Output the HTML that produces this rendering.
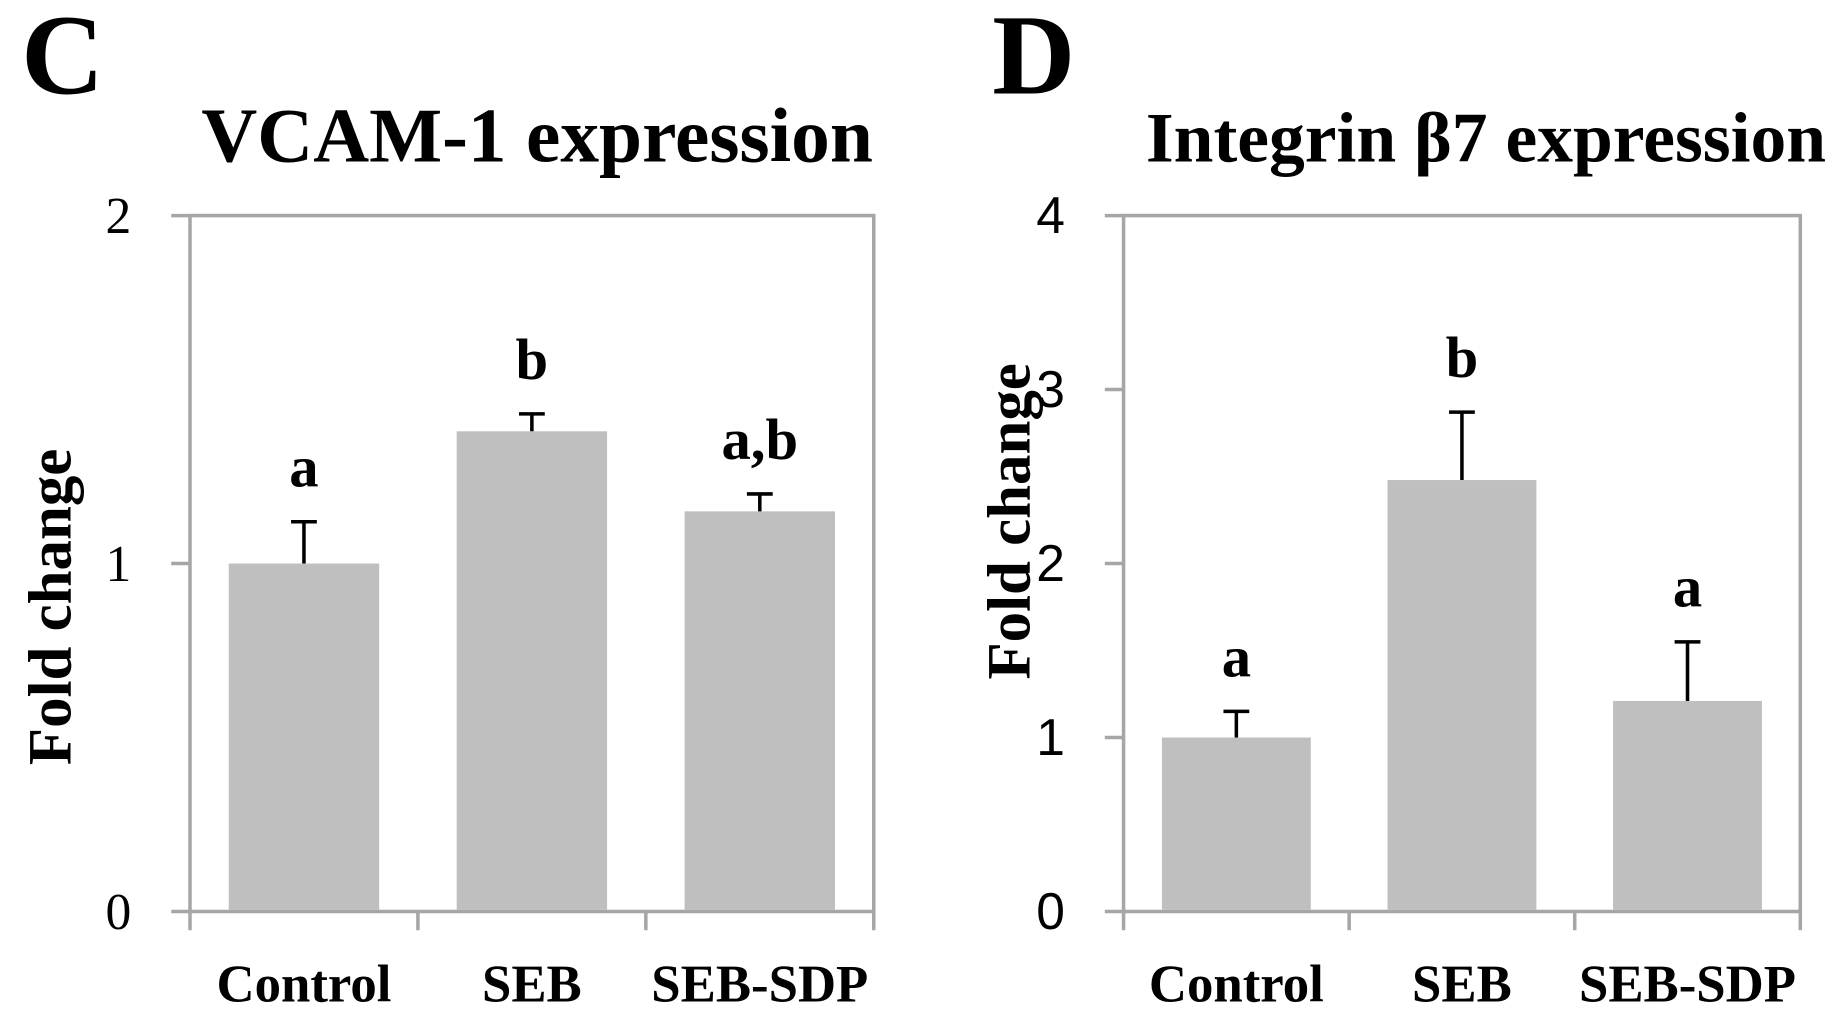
<!DOCTYPE html>
<html><head><meta charset="utf-8"><style>
html,body{margin:0;padding:0;background:#fff;}
svg{display:block;}
</style></head><body>
<svg id="fig" width="1839" height="1031" viewBox="0 0 1568 880" preserveAspectRatio="none"></svg>
<script>
const categories = ["Control","SEB","SEB-SDP"];
const vcamValues = [1.0, 1.38, 1.15];
const vcamErrors = [0.12, 0.05, 0.05];
const vcamLetters = ["a","b","a,b"];
const vcamTicks = [0,1,2];
const itgValues = [1.0, 2.48, 1.21];
const itgErrors = [0.15, 0.39, 0.34];
const itgLetters = ["a","b","a"];
const itgTicks = [0,1,2,3,4];

const NS="http://www.w3.org/2000/svg";
const svg=document.getElementById('fig');
function mk(tag,attrs,parent){const e=document.createElementNS(NS,tag);for(const k in attrs)e.setAttribute(k,attrs[k]);(parent||svg).appendChild(e);return e;}
const SERIF='"Liberation Serif", serif', SANS='"Liberation Sans", sans-serif';

function drawPanel(o){
  const g=mk('g',{});
  
  
  const yMax=o.ticks[o.ticks.length-1];
  const y=v=>o.y0-(v/yMax)*(o.y0-o.yTop);
  const bw=(o.xR-o.xL)/categories.length;
  const x=i=>o.xL+bw*(i+0.5);
  let t=mk('text',{x:o.letterX,y:80,'font-family':SERIF,'font-weight':'bold','font-size':98,fill:'#000'},g);
  t.textContent=o.letter;
  
  
  t=mk('text',{x:o.titleX,y:138,'text-anchor':'middle','font-family':SERIF,'font-weight':'bold','font-size':o.titleSize,fill:'#000'},g);
  t.textContent=o.title;
  
  
  const fr=mk('rect',{x:o.xL,y:o.yTop,width:o.xR-o.xL,height:o.y0-o.yTop,fill:'none',stroke:'#a6a6a6','stroke-width':3},g);
  
  
  o.ticks.forEach(v=>{
    const l=mk('line',{x1:o.xL-16,x2:o.xL,y1:y(v),y2:y(v),stroke:'#a6a6a6','stroke-width':3},g);
    
    
    const tt=mk('text',{x:o.xL-50,y:y(v)+15,'text-anchor':'end','font-family':o.tickFont,'font-size':44,fill:'#000'},g);
    tt.textContent=v;
    
    
  });
  for(let i=0;i<=categories.length;i++){
    const xx=o.xL+bw*i;
    const l=mk('line',{x1:xx,x2:xx,y1:o.y0,y2:o.y0+16,stroke:'#a6a6a6','stroke-width':3},g);
    
    
  }
  t=mk('text',{x:0,y:0,transform:`translate(${o.ytX},${o.ytY}) rotate(-90)`,'text-anchor':'middle','font-family':SERIF,'font-weight':'bold','font-size':52,fill:'#000'},g);
  t.textContent='Fold change';
  
  
  const barW=bw*0.66;
  o.values.forEach((v,i)=>{
    const b=mk('rect',{x:x(i)-barW/2,y:y(v),width:barW,height:o.y0-1.5-y(v),fill:'#bfbfbf'},g);
    
    
    const ye=y(v+o.errors[i]);
    const e=mk('path',{d:`M${x(i)},${y(v)}V${ye}M${x(i)-11},${ye}H${x(i)+11}`,stroke:'#000','stroke-width':3,fill:'none'},g);
    
    
    const lt=mk('text',{x:x(i),y:ye-30,'text-anchor':'middle','font-family':SERIF,'font-weight':'bold','font-size':50,fill:'#000'},g);
    lt.textContent=o.letters[i];
    
    
    const cl=mk('text',{x:x(i),y:855,'text-anchor':'middle','font-family':SERIF,'font-weight':'bold','font-size':45,fill:'#000'},g);
    cl.textContent=categories[i];
    
    
  });
}
drawPanel({name:'vcam-chart',letter:'C',letterX:18,title:'VCAM-1 expression',titleX:458,titleSize:66,xL:162,xR:745,yTop:184,y0:778,ticks:vcamTicks,values:vcamValues,errors:vcamErrors,letters:vcamLetters,tickFont:SERIF,ytX:60,ytY:518});
drawPanel({name:'integrin-chart',letter:'D',letterX:846,title:'Integrin \u03B27 expression',titleX:1267,titleSize:61,xL:958,xR:1535,yTop:184,y0:778,ticks:itgTicks,values:itgValues,errors:itgErrors,letters:itgLetters,tickFont:SANS,ytX:878,ytY:445});
</script>
</body></html>
